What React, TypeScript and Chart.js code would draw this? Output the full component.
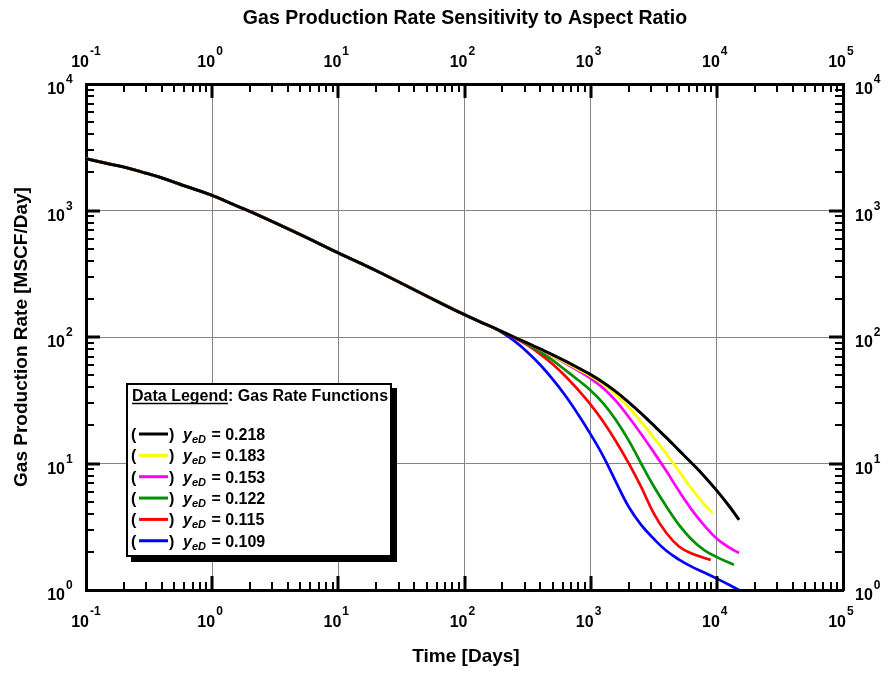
import React, { useEffect, useRef } from "react";
import { Chart, registerables } from "chart.js";

Chart.register(...registerables);

const W = 888;
const H = 673;
const FONT = '"Liberation Sans", Arial, sans-serif';

// ---- data: Time [Days] and Gas Production Rate [MSCF/Day] ----
// early-time part shared by every curve
const baseTime = [0.1, 0.15, 0.21, 0.3, 0.38, 0.6, 1, 1.5, 2.36, 5, 10, 20, 50, 100, 150];
const baseRate = [2570, 2345, 2180, 1968, 1840, 1570, 1316, 1107, 912, 645, 462, 334, 211, 150, 125];

// late-time branches
const tailTime = [200, 251, 316, 398, 501, 631, 794, 1000, 1259, 1585, 1995, 2512, 3162, 3981, 5012, 6310, 7943, 10000, 12589];

const tBlack = tailTime.concat([15000]);
const qBlack = [110, 99.1, 89.3, 80.4, 72.3, 64.4, 57.1, 50.4, 43.7, 37.0, 30.6, 24.9, 20.0, 16.0, 12.7, 10.1, 7.94, 6.10, 4.57, 3.59];

const tYellow = tailTime.slice(0, 17).concat([9290]);
const qYellow = [110, 99.1, 89.3, 79.8, 70.8, 62.8, 55.6, 49.0, 42.2, 35.1, 27.9, 21.3, 16.0, 11.9, 8.71, 6.31, 4.76, 4.06];

const tMagenta = tailTime.concat([15000]);
const qMagenta = [110, 99.1, 89.1, 79.4, 70.3, 61.9, 54.3, 47.0, 39.4, 31.3, 23.4, 17.1, 12.3, 8.71, 6.05, 4.32, 3.24, 2.54, 2.16, 1.96];

const tGreen = tailTime.slice(0, 18).concat([13650]);
const qGreen = [110, 98.9, 88.1, 76.2, 65.3, 54.7, 45.7, 37.8, 29.9, 22.1, 15.3, 10.0, 6.61, 4.57, 3.27, 2.51, 2.07, 1.82, 1.58];

const tRed = tailTime.slice(0, 16).concat([8950]);
const qRed = [110, 98.2, 86.1, 73.3, 61.0, 49.0, 38.3, 29.2, 21.4, 15.0, 10.1, 6.53, 4.03, 2.82, 2.21, 1.94, 1.73];

const tBlue = tailTime.concat([15000]);
const qBlue = [108, 92.3, 75.9, 60.3, 46.2, 34.3, 24.5, 17.0, 11.4, 7.16, 4.57, 3.27, 2.54, 2.04, 1.74, 1.53, 1.374, 1.23, 1.096, 1.0];

const yeDValues = ["0.218", "0.183", "0.153", "0.122", "0.115", "0.109"];
const seriesColors = ["#000000", "#FFFF00", "#FF00FF", "#009000", "#FF0000", "#0000FF"];
const seriesTimes = [tBlack, tYellow, tMagenta, tGreen, tRed, tBlue];
const seriesRates = [qBlack, qYellow, qMagenta, qGreen, qRed, qBlue];

const xDecades = [-1, 0, 1, 2, 3, 4, 5];
const yDecades = [0, 1, 2, 3, 4];

const titleText = "Gas Production Rate Sensitivity to Aspect Ratio";
const xTitle = "Time [Days]";
const yTitle = "Gas Production Rate [MSCF/Day]";
const legendTitle = "Data Legend";
const legendSubtitle = ": Gas Rate Functions";

function buildPoints(t: number[], q: number[]) {
  const xs = baseTime.concat(t);
  const ys = baseRate.concat(q);
  return xs.map((x, i) => ({ x, y: ys[i] }));
}

const decadeTicks = (exps: number[]) => exps.map((e) => ({ value: Math.pow(10, e), major: true }));

const overlay = {
  id: "overlay",
  afterDraw(chart: any) {
    const ctx: CanvasRenderingContext2D = chart.ctx;
    const { left, right, top, bottom } = chart.chartArea;
    const xs = chart.scales.x;
    const ys = chart.scales.y;
    ctx.save();

    // inward ticks on all four sides
    ctx.strokeStyle = "#000";
    const minorLen = 8;
    const majorLen = 14;
    for (let e = -1; e < 5; e++) {
      for (let m = 1; m <= 9; m++) {
        const v = m * Math.pow(10, e);
        if (v <= 0.1 + 1e-12) continue;
        const px = Math.round(xs.getPixelForValue(v));
        const major = m === 1;
        const len = major ? majorLen : minorLen;
        ctx.lineWidth = major ? 3 : 2;
        ctx.beginPath();
        ctx.moveTo(px, bottom);
        ctx.lineTo(px, bottom - len);
        ctx.moveTo(px, top);
        ctx.lineTo(px, top + len);
        ctx.stroke();
      }
    }
    for (let e = 0; e < 4; e++) {
      for (let m = 1; m <= 9; m++) {
        const v = m * Math.pow(10, e);
        if (v <= 1 + 1e-12) continue;
        const py = Math.round(ys.getPixelForValue(v));
        const major = m === 1;
        const len = major ? majorLen : minorLen;
        ctx.lineWidth = major ? 3 : 2;
        ctx.beginPath();
        ctx.moveTo(left, py);
        ctx.lineTo(left + len, py);
        ctx.moveTo(right, py);
        ctx.lineTo(right - len, py);
        ctx.stroke();
      }
    }

    // tick labels "10" with superscript exponent
    ctx.fillStyle = "#000";
    ctx.textBaseline = "alphabetic";
    const big = `bold 16px ${FONT}`;
    const small = `bold 12px ${FONT}`;
    for (const e of xDecades) {
      const px = xs.getPixelForValue(Math.pow(10, e));
      for (const base of [627, 67]) {
        ctx.font = big;
        ctx.textAlign = "right";
        ctx.fillText("10", px + 3, base);
        ctx.font = small;
        ctx.textAlign = "left";
        ctx.fillText(String(e), px + 4, base - 12);
      }
    }
    for (const e of yDecades) {
      const py = ys.getPixelForValue(Math.pow(10, e));
      ctx.font = big;
      ctx.textAlign = "right";
      ctx.fillText("10", left - 21, py + 10);
      ctx.font = small;
      ctx.textAlign = "left";
      ctx.fillText(String(e), left - 20, py - 1);

      ctx.font = big;
      ctx.textAlign = "left";
      ctx.fillText("10", right + 12, py + 10);
      const w = ctx.measureText("10").width;
      ctx.font = small;
      ctx.fillText(String(e), right + 13 + w, py - 1);
    }

    // title & axis titles
    ctx.font = `bold 19.5px ${FONT}`;
    ctx.textAlign = "center";
    ctx.fillText(titleText, 465, 24);
    ctx.font = `bold 19px ${FONT}`;
    ctx.fillText(xTitle, 466, 662);
    ctx.save();
    ctx.translate(22, (top + bottom) / 2);
    ctx.rotate(-Math.PI / 2);
    ctx.textBaseline = "middle";
    ctx.fillText(yTitle, 0, 0);
    ctx.restore();

    // legend box with drop shadow
    const bx = 126, by = 383, bw = 266, bh = 174;
    ctx.fillStyle = "#000";
    ctx.fillRect(bx + 5, by + 5, bw, bh);
    ctx.fillStyle = "#fff";
    ctx.fillRect(bx, by, bw, bh);
    ctx.strokeStyle = "#000";
    ctx.lineWidth = 2;
    ctx.strokeRect(bx + 1, by + 1, bw - 2, bh - 2);

    ctx.fillStyle = "#000";
    ctx.textAlign = "left";
    ctx.textBaseline = "alphabetic";
    ctx.font = `bold 16px ${FONT}`;
    const hx = 132, hy = 401;
    ctx.fillText(legendTitle, hx, hy);
    const hw = ctx.measureText(legendTitle).width;
    ctx.lineWidth = 1.5;
    ctx.beginPath();
    ctx.moveTo(hx, hy + 2.5);
    ctx.lineTo(hx + hw, hy + 2.5);
    ctx.stroke();
    ctx.fillText(legendSubtitle, hx + hw, hy);

    chart.data.datasets.forEach((ds: any, i: number) => {
      const cy = 434 + i * 21.35;
      const base = cy + 6;
      ctx.fillStyle = "#000";
      ctx.font = `bold 16px ${FONT}`;
      ctx.fillText("(", 131, base);
      ctx.strokeStyle = ds.borderColor;
      ctx.lineWidth = 3;
      ctx.beginPath();
      ctx.moveTo(139, cy);
      ctx.lineTo(168, cy);
      ctx.stroke();
      ctx.fillText(")", 169, base);
      ctx.font = `italic bold 16px ${FONT}`;
      ctx.fillText("y", 183, base);
      const yw = ctx.measureText("y").width;
      ctx.font = `italic bold 11px ${FONT}`;
      ctx.fillText("eD", 183 + yw, base + 3);
      const sw = ctx.measureText("eD").width;
      ctx.font = `bold 16px ${FONT}`;
      ctx.fillText(" = " + yeDValues[i], 183 + yw + sw + 1, base);
    });

    ctx.restore();
  },
};

export default function App() {
  const ref = useRef<HTMLCanvasElement>(null);

  useEffect(() => {
    const datasets = seriesTimes.map((t, i) => ({
      label: "yeD = " + yeDValues[i],
      data: buildPoints(t, seriesRates[i]),
      borderColor: seriesColors[i],
      backgroundColor: seriesColors[i],
      borderWidth: i === 0 ? 3 : 2.7,
      pointRadius: 0,
      fill: false,
      tension: 0.4,
      xAxisID: "x",
      yAxisID: "y",
    }));

    const gridColor = "#858585";
    const chart = new Chart(ref.current as HTMLCanvasElement, {
      type: "line",
      data: { datasets },
      plugins: [overlay],
      options: {
        responsive: false,
        animation: false,
        devicePixelRatio: 1,
        layout: { padding: 0 },
        plugins: {
          legend: { display: false },
          title: { display: false },
          tooltip: { enabled: false },
        },
        scales: {
          x: {
            type: "logarithmic",
            position: "bottom",
            min: 0.1,
            max: 1e5,
            ticks: { display: false },
            grid: { color: gridColor, lineWidth: 1, drawTicks: false },
            border: { display: true, color: "#000", width: 3 },
            afterBuildTicks: (s: any) => { s.ticks = decadeTicks(xDecades); },
            afterFit: (s: any) => { s.height = 83; },
          },
          x2: {
            type: "logarithmic",
            axis: "x",
            position: "top",
            min: 0.1,
            max: 1e5,
            ticks: { display: false },
            grid: { display: false, drawTicks: false },
            border: { display: true, color: "#000", width: 3 },
            afterBuildTicks: (s: any) => { s.ticks = decadeTicks(xDecades); },
            afterFit: (s: any) => { s.height = 84; },
          },
          y: {
            type: "logarithmic",
            position: "left",
            min: 1,
            max: 1e4,
            ticks: { display: false },
            grid: { color: gridColor, lineWidth: 1, drawTicks: false },
            border: { display: true, color: "#000", width: 3 },
            afterBuildTicks: (s: any) => { s.ticks = decadeTicks(yDecades); },
            afterFit: (s: any) => { s.width = 86; },
          },
          y2: {
            type: "logarithmic",
            axis: "y",
            position: "right",
            min: 1,
            max: 1e4,
            ticks: { display: false },
            grid: { display: false, drawTicks: false },
            border: { display: true, color: "#000", width: 3 },
            afterBuildTicks: (s: any) => { s.ticks = decadeTicks(yDecades); },
            afterFit: (s: any) => { s.width = 45; },
          },
        },
      } as any,
    });
    return () => chart.destroy();
  }, []);

  return (
    <div style={{ position: "absolute", left: 0, top: 0, width: W, height: H, background: "#fff" }}>
      <canvas ref={ref} width={W} height={H} style={{ display: "block", width: W, height: H }} />
    </div>
  );
}
